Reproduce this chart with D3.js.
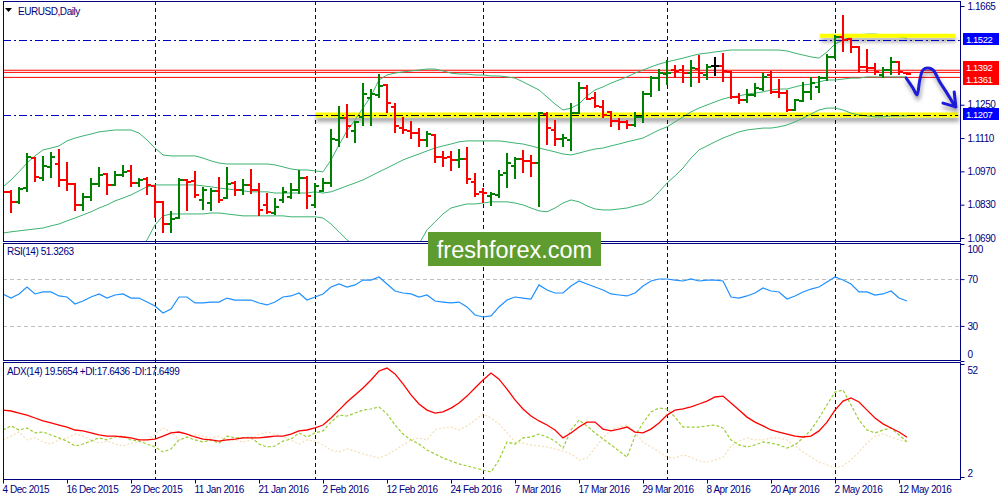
<!DOCTYPE html>
<html><head><meta charset="utf-8">
<script src="https://cdn.jsdelivr.net/npm/d3@7"></script>
<style>
body{margin:0;background:#fff}
svg{display:block}
text{font-family:"Liberation Sans",Arial,sans-serif;font-size:10px;letter-spacing:-0.45px;fill:#000080}
</style>
</head><body>
<svg id="c" width="1000" height="500"></svg>
<script>
// ---------- DATA ----------
const dateIdx = [0,8,16,24,32,40,48,56,64,72,80,88,96,104,112];
const dateLabels = ["4 Dec 2015","16 Dec 2015","29 Dec 2015","11 Jan 2016","21 Jan 2016","2 Feb 2016","12 Feb 2016","24 Feb 2016","7 Mar 2016","17 Mar 2016","29 Mar 2016","8 Apr 2016","20 Apr 2016","2 May 2016","12 May 2016"];
const monthStarts = [19,39,60,83,104];
const priceTicks = [1.1665,1.1250,1.1110,1.0970,1.0830,1.0690];
const rsiTicks = [100,70,30,0];
const rsiLevels = [70,30];
const adxTicks = [52,2];

const open = [
1.0892,1.0884,1.0842,1.0900,1.1026,1.0942,1.0989,1.1001,1.0934,1.0917,
1.0829,1.0863,1.0917,1.0959,1.0913,1.0955,1.0972,1.0921,1.0938,1.0909,
1.0842,1.0749,1.0774,1.0934,1.0930,1.0850,1.0837,1.0888,1.0858,1.0921,
1.0892,1.0913,1.0892,1.0829,1.0795,1.0850,1.0863,1.0892,1.0942,1.0829,
1.0888,1.0921,1.1102,1.1194,1.1140,1.1199,1.1278,1.1291,1.1333,1.1241,
1.1152,1.1140,1.1131,1.1102,1.1123,1.1031,1.1031,1.1018,1.1022,1.0926,
1.0884,1.0867,1.0871,1.0963,1.0993,1.1022,1.1014,1.1005,1.1211,1.1144,
1.1106,1.1102,1.1215,1.1320,1.1278,1.1241,1.1220,1.1182,1.1178,1.1165,
1.1199,1.1295,1.1362,1.1379,1.1396,1.1396,1.1383,1.1400,1.1375,1.1413,
1.1413,1.1388,1.1283,1.1270,1.1291,1.1316,1.1375,1.1304,1.1299,1.1228,
1.1266,1.1304,1.1325,1.1362,1.1451,1.1535,1.1526,1.1493,1.1409,1.1404,
1.1375,1.1396,1.1430,1.1383];
const high = [
1.0963,1.0892,1.0905,1.1047,1.1031,1.1035,1.1052,1.1064,1.1010,1.0921,
1.0879,1.0942,1.0989,1.0963,1.0972,1.0997,1.0997,1.0942,1.0947,1.0913,
1.0846,1.0804,1.0942,1.0938,1.0972,1.0905,1.0900,1.0947,1.0989,1.0930,
1.0938,1.0980,1.0921,1.0879,1.0858,1.0905,1.0921,1.0976,1.0951,1.0921,
1.0942,1.1148,1.1245,1.1253,1.1182,1.1341,1.1316,1.1379,1.1337,1.1257,
1.1199,1.1182,1.1152,1.1140,1.1127,1.1056,1.1056,1.1064,1.1073,1.0963,
1.0900,1.0884,1.0976,1.1047,1.1031,1.1060,1.1039,1.1220,1.1220,1.1186,
1.1127,1.1257,1.1346,1.1333,1.1304,1.1270,1.1224,1.1194,1.1186,1.1220,
1.1308,1.1371,1.1400,1.1438,1.1417,1.1417,1.1438,1.1459,1.1421,1.1451,
1.1467,1.1392,1.1299,1.1316,1.1341,1.1383,1.1392,1.1358,1.1312,1.1274,
1.1346,1.1367,1.1371,1.1463,1.1543,1.1627,1.1530,1.1497,1.1484,1.1425,
1.1409,1.1451,1.1434,1.1388];
const low = [
1.0837,1.0795,1.0833,1.0884,1.0926,1.0930,1.0942,1.0905,1.0888,1.0804,
1.0804,1.0846,1.0905,1.0871,1.0909,1.0947,1.0905,1.0905,1.0871,1.0774,
1.0711,1.0711,1.0770,1.0804,1.0858,1.0808,1.0804,1.0837,1.0854,1.0867,
1.0871,1.0875,1.0783,1.0791,1.0787,1.0837,1.0854,1.0875,1.0812,1.0816,
1.0884,1.0905,1.1073,1.1110,1.1089,1.1161,1.1161,1.1278,1.1215,1.1131,
1.1127,1.1106,1.1073,1.1073,1.1005,1.0989,1.0972,1.0984,1.0917,1.0863,
1.0837,1.0825,1.0858,1.0900,1.0938,1.0963,1.0947,1.0821,1.1081,1.1077,
1.1073,1.1056,1.1211,1.1270,1.1236,1.1194,1.1157,1.1144,1.1148,1.1157,
1.1173,1.1283,1.1308,1.1333,1.1362,1.1341,1.1325,1.1341,1.1354,1.1371,
1.1346,1.1274,1.1253,1.1257,1.1283,1.1308,1.1295,1.1278,1.1220,1.1224,
1.1262,1.1270,1.1299,1.1350,1.1442,1.1472,1.1467,1.1388,1.1388,1.1375,
1.1362,1.1375,1.1375,1.1375];
const close = [
1.0884,1.0842,1.0896,1.1031,1.0947,1.0993,1.1031,1.0934,1.0917,1.0829,
1.0863,1.0917,1.0955,1.0913,1.0955,1.0968,1.0921,1.0934,1.0913,1.0842,
1.0749,1.0770,1.0934,1.0926,1.0871,1.0892,1.0888,1.0850,1.0917,1.0892,
1.0913,1.0892,1.0808,1.0800,1.0821,1.0884,1.0892,1.0942,1.0867,1.0909,
1.0921,1.1106,1.1194,1.1161,1.1178,1.1295,1.1295,1.1329,1.1257,1.1161,
1.1144,1.1131,1.1102,1.1127,1.1031,1.1026,1.1018,1.1022,1.0938,1.0875,
1.0879,1.0875,1.0955,1.1005,1.1022,1.1014,1.1005,1.1215,1.1152,1.1106,
1.1110,1.1215,1.1320,1.1274,1.1245,1.1207,1.1182,1.1178,1.1165,1.1199,
1.1295,1.1362,1.1383,1.1383,1.1392,1.1383,1.1404,1.1383,1.1409,1.1413,
1.1392,1.1283,1.1270,1.1291,1.1320,1.1367,1.1304,1.1299,1.1228,1.1270,
1.1304,1.1341,1.1362,1.1451,1.1535,1.1522,1.1493,1.1409,1.1404,1.1388,
1.1396,1.1430,1.1388,1.1379];

const bbUpper = [
1.0905,1.0934,1.0968,1.1005,1.1035,1.1060,1.1068,1.1077,1.1098,1.1110,
1.1119,1.1127,1.1136,1.1140,1.1144,1.1144,1.1144,1.1131,1.1102,1.1068,
1.1039,1.1035,1.1035,1.1035,1.1035,1.1026,1.1014,1.1005,1.1001,1.1001,
1.1001,1.1001,1.1001,1.1001,1.0997,1.0989,1.0980,1.0976,1.0976,1.0972,
1.0968,1.1018,1.1081,1.1140,1.1186,1.1236,1.1287,1.1354,1.1375,1.1383,
1.1388,1.1392,1.1396,1.1400,1.1400,1.1392,1.1383,1.1379,1.1379,1.1375,
1.1375,1.1371,1.1371,1.1367,1.1362,1.1346,1.1329,1.1312,1.1283,1.1253,
1.1228,1.1236,1.1253,1.1287,1.1312,1.1325,1.1341,1.1354,1.1367,1.1383,
1.1396,1.1409,1.1421,1.1430,1.1438,1.1446,1.1455,1.1463,1.1467,1.1472,
1.1476,1.1480,1.1480,1.1480,1.1480,1.1480,1.1480,1.1480,1.1476,1.1467,
1.1459,1.1451,1.1446,1.1472,1.1505,1.1522,1.1535,1.1543,1.1547,1.1547,
1.1543,1.1539,1.1535,1.1530];
const bbMiddle = [
1.0711,1.0716,1.0720,1.0724,1.0728,1.0732,1.0741,1.0749,1.0762,1.0774,
1.0787,1.0800,1.0816,1.0829,1.0846,1.0858,1.0871,1.0888,1.0905,1.0913,
1.0913,1.0913,1.0913,1.0913,1.0913,1.0909,1.0905,1.0900,1.0896,1.0892,
1.0888,1.0884,1.0884,1.0884,1.0879,1.0879,1.0879,1.0879,1.0879,1.0884,
1.0879,1.0884,1.0896,1.0909,1.0921,1.0934,1.0951,1.0968,1.0984,1.1001,
1.1018,1.1031,1.1043,1.1056,1.1068,1.1077,1.1085,1.1094,1.1098,1.1098,
1.1098,1.1098,1.1098,1.1094,1.1089,1.1085,1.1077,1.1068,1.1060,1.1052,
1.1043,1.1039,1.1047,1.1056,1.1064,1.1068,1.1077,1.1085,1.1094,1.1102,
1.1110,1.1127,1.1144,1.1157,1.1178,1.1199,1.1220,1.1236,1.1249,1.1262,
1.1274,1.1283,1.1287,1.1295,1.1299,1.1304,1.1312,1.1316,1.1316,1.1325,
1.1333,1.1337,1.1346,1.1354,1.1354,1.1358,1.1362,1.1362,1.1367,1.1367,
1.1367,1.1367,1.1367,1.1367];
const bbLower = [
1.0518,1.0497,1.0472,1.0443,1.0422,1.0405,1.0413,1.0422,1.0434,1.0438,
1.0455,1.0472,1.0497,1.0518,1.0548,1.0573,1.0598,1.0644,1.0682,1.0745,
1.0783,1.0791,1.0791,1.0791,1.0791,1.0791,1.0795,1.0795,1.0791,1.0787,
1.0783,1.0783,1.0783,1.0783,1.0783,1.0783,1.0779,1.0779,1.0779,1.0779,
1.0774,1.0749,1.0716,1.0682,1.0657,1.0632,1.0615,1.0590,1.0598,1.0619,
1.0632,1.0648,1.0665,1.0724,1.0758,1.0791,1.0816,1.0825,1.0833,1.0833,
1.0837,1.0842,1.0842,1.0842,1.0837,1.0829,1.0816,1.0804,1.0800,1.0816,
1.0837,1.0850,1.0842,1.0825,1.0812,1.0808,1.0808,1.0812,1.0816,1.0825,
1.0833,1.0850,1.0884,1.0921,1.0951,1.0984,1.1026,1.1060,1.1077,1.1094,
1.1110,1.1123,1.1136,1.1144,1.1148,1.1152,1.1152,1.1157,1.1165,1.1178,
1.1194,1.1211,1.1228,1.1236,1.1236,1.1228,1.1215,1.1207,1.1203,1.1199,
1.1199,1.1203,1.1203,1.1203];

const rsi = [
57.3,53.8,57.3,63.2,57.3,59.0,59.0,55.6,54.7,48.7,
51.3,54.7,57.3,53.8,56.4,57.3,53.8,53.8,50.4,47.0,
41.0,44.4,54.7,54.7,49.6,49.6,50.4,50.4,53.8,52.1,
52.1,52.1,49.6,47.9,50.4,54.7,55.6,58.1,52.1,54.7,
57.3,63.2,65.8,63.2,65.0,69.2,69.2,71.8,65.8,59.8,
58.1,57.3,54.7,56.4,51.3,50.4,49.6,50.4,46.2,39.3,
37.6,38.5,46.2,52.1,54.7,53.8,53.0,65.0,60.7,58.1,
58.1,64.1,68.4,65.8,63.2,60.7,57.3,56.4,55.6,58.1,
64.1,68.4,70.1,70.1,69.2,68.4,70.1,68.4,69.2,69.2,
68.4,54.7,53.8,55.6,58.1,62.4,59.8,59.0,53.0,55.6,
59.0,61.5,63.2,67.5,71.8,69.2,65.8,59.0,59.0,56.4,
57.3,59.8,53.8,51.3];

const adx = [
31.6,31.2,30.3,29.4,28.1,26.8,25.9,25.0,24.1,22.8,
22.4,21.5,20.6,20.1,20.1,19.7,19.3,18.4,18.4,18.8,
20.1,21.5,21.9,21.0,19.7,18.8,18.4,17.9,18.4,18.8,
19.3,19.3,19.3,19.7,20.1,20.1,21.0,22.4,22.8,23.7,
25.0,28.1,31.6,35.2,38.3,41.4,44.9,48.9,50.2,47.6,
43.2,38.3,34.3,31.6,30.3,30.8,32.5,34.7,37.8,41.4,
44.9,48.0,45.3,40.9,36.1,32.1,29.0,26.8,25.0,22.8,
19.3,21.5,24.1,26.3,26.3,23.2,22.4,23.2,24.1,21.9,
21.5,23.2,25.9,29.4,31.6,32.1,33.0,34.3,35.6,37.4,
37.8,34.7,31.6,28.5,26.3,24.6,22.8,21.9,21.0,20.1,
19.7,20.1,22.4,26.3,31.6,35.6,37.0,35.2,31.6,28.1,
25.5,23.7,21.9,19.6];
const plusDI = [
22.8,24.6,22.8,23.7,21.5,21.9,20.6,19.3,17.9,15.7,
16.6,17.9,19.3,18.4,19.7,20.1,18.4,17.9,16.6,15.3,
13.1,14.4,18.4,19.7,18.4,17.5,18.4,17.0,20.1,19.3,
19.3,19.7,16.6,15.3,15.7,17.9,18.8,21.5,19.7,21.5,
22.4,26.3,29.4,29.0,30.3,31.6,32.1,33.0,29.9,25.0,
21.0,18.4,16.6,13.9,12.2,10.4,9.1,7.8,6.9,6.0,
5.1,4.2,9.5,17.5,16.6,19.3,19.7,21.0,19.7,17.9,
14.8,22.8,27.2,24.6,21.5,18.8,16.2,13.5,10.8,20.1,
25.9,30.8,32.5,32.1,28.5,24.1,24.1,24.1,24.6,25.0,
23.7,18.4,16.2,15.3,16.2,17.5,17.0,16.2,14.8,16.2,
19.3,22.8,28.1,33.9,39.6,40.5,33.9,27.2,22.8,21.5,
22.8,23.7,20.6,17.6];
const minusDI = [
18.4,20.1,21.9,18.4,19.3,17.5,16.6,18.4,19.3,21.0,
20.1,18.4,17.0,17.9,16.6,15.7,17.0,17.5,18.4,21.0,
23.7,21.9,18.4,19.3,20.6,20.1,19.3,20.1,17.9,18.4,
17.5,18.4,21.0,21.9,21.0,19.7,18.4,16.6,18.4,17.9,
16.2,13.9,13.1,14.4,13.5,12.2,11.3,10.4,11.7,13.9,
16.2,18.4,19.3,18.4,22.8,23.7,24.1,22.8,24.6,27.2,
29.9,28.1,25.5,21.5,17.5,17.0,16.2,15.7,15.3,14.4,
13.5,12.2,9.5,10.4,14.8,19.3,22.8,24.1,25.0,21.9,
17.5,15.3,13.1,10.8,10.4,11.7,10.8,9.1,8.6,9.5,
10.8,15.7,17.9,19.3,18.4,18.4,19.3,19.3,18.4,15.7,
13.1,10.8,8.6,7.3,6.0,6.9,9.5,13.1,17.0,20.1,
21.0,19.7,18.4,17.6];

// chart objects (in bar-index / price units)
const redLevels = [1.1395, 1.1386, 1.1365];
const yellowLow = [{from:39, to:119.4, price:1.1207, w:5}];
const yellowHigh = [{from:102.1, to:119.0, price:1.1540, w:4}];
const dashLines = [{from:0, to:119.6, price:1.1522, color:"#0000c0"}, {from:0, to:39, price:1.1207, color:"#0000c0"}, {from:39, to:119.4, price:1.1207, color:"#000000"}];
const priceTags = [{v:1.1522, c:"#0000ff", dy:-1}, {v:1.1392, c:"#ff0000", dy:-4}, {v:1.1361, c:"#ff0000", dy:1}, {v:1.1207, c:"#0000ff", dy:-1}];
const arrowPts = [[112.9,1.1362],[113.75,1.1320],[114.25,1.1291],[114.6,1.1354],[115.0,1.1396],[115.6,1.1404],[116.25,1.1396],[117.1,1.1346],[118.0,1.1299],[118.75,1.1257],[119.1,1.1241]];
const arrowHead = [[117.5,1.1257],[119.1,1.1241],[118.9,1.1304]];

// ---------- DRAW ----------
const svg = d3.select("#c");
const n = close.length;
const x = d3.scaleLinear().domain([0, 113]).range([3, 907]);
const yP = d3.scaleLinear().domain([1.0690, 1.1665]).range([238, 6]);
const yR = d3.scaleLinear().domain([0, 100]).range([361, 244]);
const yA = d3.scaleLinear().domain([2, 52]).range([477, 364]);
const NAVY = "#000080";
const panels = [{id:"m", t:1, b:241}, {id:"r", t:243, b:360}, {id:"a", t:362, b:479}];

const defs = svg.append("defs");
panels.forEach(p => defs.append("clipPath").attr("id", "clip" + p.id)
  .append("rect").attr("x", 3).attr("y", p.t).attr("width", 957).attr("height", p.b - p.t));
const f = defs.append("filter").attr("id", "shadow").attr("filterUnits", "userSpaceOnUse")
  .attr("x", 0).attr("y", 0).attr("width", 1000).attr("height", 500);
f.append("feGaussianBlur").attr("in", "SourceAlpha").attr("stdDeviation", 2).attr("result", "b");
f.append("feOffset").attr("in", "b").attr("dx", 1).attr("dy", 4).attr("result", "o");
f.append("feComponentTransfer").attr("in", "o").attr("result", "t").append("feFuncA").attr("type", "linear").attr("slope", 0.4);
const fm = f.append("feMerge"); fm.append("feMergeNode").attr("in", "t"); fm.append("feMergeNode").attr("in", "SourceGraphic");

svg.append("rect").attr("width", 1000).attr("height", 500).attr("fill", "#fff");

// month separators
svg.append("g").selectAll("line").data(monthStarts).join("line")
  .attr("x1", d => Math.round(x(d)) + 0.5).attr("x2", d => Math.round(x(d)) + 0.5)
  .attr("y1", 1).attr("y2", 479).attr("stroke", NAVY).attr("stroke-dasharray", "4,3");

// ---- main panel ----
const gm = svg.append("g").attr("clip-path", "url(#clipm)");
gm.selectAll(".red").data(redLevels).join("line").attr("class", "red")
  .attr("x1", 3).attr("x2", 960).attr("y1", d => yP(d)).attr("y2", d => yP(d))
  .attr("stroke", "#ff0000").attr("stroke-width", 1);
function yellow(data) {
  gm.append("g").attr("filter", "url(#shadow)").selectAll("rect").data(data).join("rect")
    .attr("x", d => x(d.from)).attr("width", d => x(d.to) - x(d.from))
    .attr("y", d => yP(d.price) - d.w / 2).attr("height", d => d.w)
    .attr("fill", "#ffff00");
}
yellow(yellowLow);

const band = d3.line().x((d, i) => x(i)).y(d => yP(d));
[bbUpper, bbMiddle, bbLower].forEach(b => gm.append("path").attr("d", band(b))
  .attr("fill", "none").attr("stroke", "#3cb371").attr("stroke-width", 1));
yellow(yellowHigh);

gm.selectAll(".dd").data(dashLines).join("line").attr("class", "dd")
  .attr("x1", d => x(d.from)).attr("x2", d => x(d.to)).attr("y1", d => Math.round(yP(d.price)) + 0.5).attr("y2", d => Math.round(yP(d.price)) + 0.5)
  .attr("stroke", d => d.color).attr("stroke-width", 1).attr("stroke-dasharray", "8,3,2,3");

const bars = gm.append("g").selectAll("g").data(d3.range(n)).join("g")
  .attr("stroke", i => close[i] > open[i] ? "#008000" : close[i] < open[i] ? "#ff0000" : "#000000")
  .attr("stroke-width", 2).attr("shape-rendering", "crispEdges");
bars.append("line").attr("x1", i => x(i)).attr("x2", i => x(i)).attr("y1", i => yP(high[i])).attr("y2", i => yP(low[i]));
bars.append("line").attr("x1", i => x(i) - 4).attr("x2", i => x(i)).attr("y1", i => yP(open[i])).attr("y2", i => yP(open[i]));
bars.append("line").attr("x1", i => x(i)).attr("x2", i => x(i) + 4).attr("y1", i => yP(close[i])).attr("y2", i => yP(close[i]));

const al = d3.line().x(d => x(d[0])).y(d => yP(d[1])).curve(d3.curveCatmullRom);
const ga = svg.append("g").attr("filter", "url(#shadow)");
ga.append("path").attr("d", al(arrowPts)).attr("fill", "none").attr("stroke", "#1a1ad8").attr("stroke-width", 3).attr("stroke-linecap", "round").attr("stroke-linejoin", "round");
ga.append("path").attr("d", d3.line().x(d => x(d[0])).y(d => yP(d[1]))(arrowHead)).attr("fill", "none").attr("stroke", "#1a1ad8").attr("stroke-width", 3).attr("stroke-linecap", "round").attr("stroke-linejoin", "round");

// ---- RSI panel ----
const gr = svg.append("g").attr("clip-path", "url(#clipr)");
gr.selectAll("line").data(rsiLevels).join("line").attr("x1", 3).attr("x2", 960)
  .attr("y1", d => Math.round(yR(d)) + 0.5).attr("y2", d => Math.round(yR(d)) + 0.5)
  .attr("stroke", "#c0c0c0").attr("stroke-dasharray", "4,3");
gr.append("path").attr("d", d3.line().x((d, i) => x(i)).y(d => yR(d))(rsi))
  .attr("fill", "none").attr("stroke", "#1e90ff").attr("stroke-width", 1.2);

// ---- ADX panel ----
const gd = svg.append("g").attr("clip-path", "url(#clipa)");
const la = d3.line().x((d, i) => x(i)).y(d => yA(d));
gd.append("path").attr("d", la(minusDI)).attr("fill", "none").attr("stroke", "#f5deb3").attr("stroke-width", 1.2).attr("stroke-dasharray", "2,2");
gd.append("path").attr("d", la(plusDI)).attr("fill", "none").attr("stroke", "#9acd32").attr("stroke-width", 1.2).attr("stroke-dasharray", "3,2");
gd.append("path").attr("d", la(adx)).attr("fill", "none").attr("stroke", "#ff0000").attr("stroke-width", 1.3);

// panel frames
svg.append("g").selectAll("rect").data(panels).join("rect")
  .attr("x", 3.5).attr("y", d => d.t + 0.5).attr("width", 957).attr("height", d => d.b - d.t)
  .attr("fill", "none").attr("stroke", NAVY);

// axes
function styleAxis(g) {
  g.select(".domain").remove();
  g.attr("font-family", null).attr("font-size", null);
  g.selectAll("line").attr("stroke", NAVY);
}
const gp = svg.append("g").attr("transform", "translate(960.5,0)")
  .call(d3.axisRight(yP).tickValues(priceTicks).tickFormat(d3.format(".4f")).tickSize(4));
styleAxis(gp);
const grx = svg.append("g").attr("transform", "translate(960.5,0)")
  .call(d3.axisRight(yR).tickValues(rsiTicks).tickFormat(d3.format("d")).tickSize(4));
styleAxis(grx);
grx.selectAll("text").attr("dy", d => d === 100 ? "0.82em" : d === 0 ? "-0.38em" : "0.32em");
const gax = svg.append("g").attr("transform", "translate(960.5,0)")
  .call(d3.axisRight(yA).tickValues(adxTicks).tickFormat(d3.format("d")).tickSize(4));
styleAxis(gax);
gax.selectAll("text").attr("dy", d => d === 52 ? "0.92em" : "-0.08em");
const gx = svg.append("g").attr("transform", "translate(0,479.5)")
  .call(d3.axisBottom(x).tickValues(dateIdx).tickFormat((d, i) => dateLabels[i]).tickSize(4));
styleAxis(gx);
gx.selectAll("text").attr("text-anchor", "start").attr("x", -1).attr("y", 13).attr("dy", null);

// price tags
const tg = svg.append("g").selectAll("g").data(priceTags).join("g")
  .attr("transform", d => `translate(963,${Math.round(yP(d.v)) + d.dy})`);
tg.append("rect").attr("x", 0).attr("y", -6).attr("width", 36).attr("height", 12).attr("fill", d => d.c);
tg.append("text").attr("x", 3).attr("y", 3.5).text(d => d.v.toFixed(4)).style("fill", "#fff").style("font-size", "9.5px");

// titles
svg.append("path").attr("d", "M5,8 L12,8 L8.5,12 Z").attr("fill", "#000");
svg.append("text").attr("x", 18).attr("y", 14.5).text("EURUSD,Daily");
svg.append("text").attr("x", 7).attr("y", 255).text("RSI(14) 51.3263");
svg.append("text").attr("x", 7).attr("y", 375).text("ADX(14) 19.5654 +DI:17.6436 -DI:17.6499");

// watermark
svg.append("rect").attr("x", 428).attr("y", 232).attr("width", 173).attr("height", 34).attr("fill", "#5f9c2f");
svg.append("text").attr("x", 514.5).attr("y", 258).attr("text-anchor", "middle")
  .text("freshforex.com").style("fill", "#fff").style("font-size", "23.5px").style("letter-spacing", "0px");
</script>
</body></html>
